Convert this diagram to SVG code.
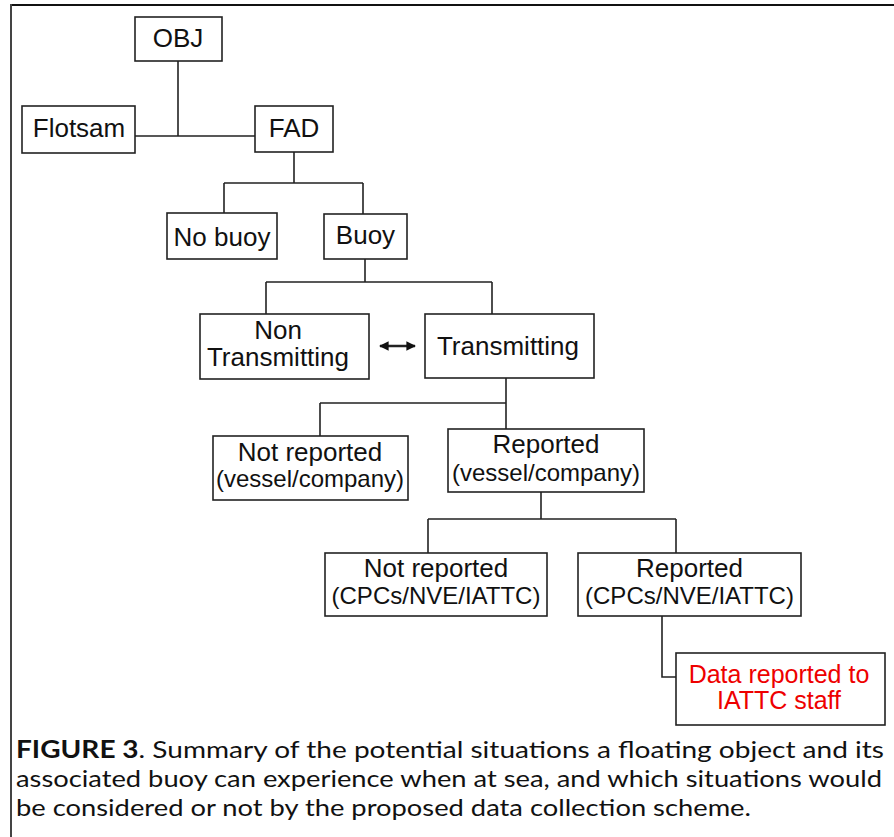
<svg xmlns="http://www.w3.org/2000/svg" width="894" height="837" viewBox="0 0 894 837">
  <style>
    .box { fill: #ffffff; stroke: #222222; stroke-width: 1.6; }
    .wire { fill: none; stroke: #222222; stroke-width: 1.6; }
    .lbl { font-family: "Liberation Sans", Arial, sans-serif; font-size: 26px; fill: #111111; text-anchor: middle; }
    .sub { font-size: 24px; }
    .red { fill: #ee0000; font-size: 25px; }
    .cap { font-family: Lato, "Open Sans", sans-serif; font-size: 24px; fill: #111111; }
  </style>
  <defs>
    <marker id="head" viewBox="0 0 10 10" refX="9" refY="5" markerWidth="4" markerHeight="4" orient="auto-start-reverse">
      <path d="M0,0 L10,5 L0,10 z" fill="#111111"/>
    </marker>
  </defs>

  <rect width="894" height="837" fill="#ffffff"/>

  <!-- frame -->
  <line x1="11" y1="5" x2="894" y2="5" stroke="#111111" stroke-width="2"/>
  <line x1="11" y1="4" x2="11" y2="837" stroke="#444444" stroke-width="2"/>

  <!-- connectors -->
  <g id="connectors" class="wire">
    <path d="M178,61 V136 M135,136 H255"/>
    <path d="M294,152 V183 M224,183 H363 M224,183 V213 M363,183 V214"/>
    <path d="M365,259 V282 M266,282 H492 M266,282 V314 M492,282 V314"/>
    <path d="M506,378 V403 M320,403 H506 M320,403 V436 M506,403 V429"/>
    <path d="M541,492 V519 M428,519 H676 M428,519 V553 M676,519 V553"/>
    <path d="M662,616 V677 H676"/>
    <line x1="380" y1="346" x2="415" y2="346" stroke-width="2.4" marker-start="url(#head)" marker-end="url(#head)"/>
  </g>

  <g id="obj">
    <rect class="box" x="135" y="17" width="87" height="44"/>
    <text class="lbl" x="178" y="47">OBJ</text>
  </g>
  <g id="flotsam">
    <rect class="box" x="22" y="106" width="113" height="47"/>
    <text class="lbl" x="79" y="137">Flotsam</text>
  </g>
  <g id="fad">
    <rect class="box" x="255" y="106" width="78" height="46"/>
    <text class="lbl" x="294" y="137">FAD</text>
  </g>
  <g id="no-buoy">
    <rect class="box" x="167" y="213" width="110" height="46"/>
    <text class="lbl" x="222" y="246">No buoy</text>
  </g>
  <g id="buoy">
    <rect class="box" x="324" y="214" width="83" height="45"/>
    <text class="lbl" x="365.5" y="244">Buoy</text>
  </g>
  <g id="non-transmitting">
    <rect class="box" x="200" y="314" width="169" height="65"/>
    <text class="lbl" x="278" y="339">Non</text>
    <text class="lbl" x="278" y="366">Transmitting</text>
  </g>
  <g id="transmitting">
    <rect class="box" x="425" y="314" width="169" height="64"/>
    <text class="lbl" x="508" y="355">Transmitting</text>
  </g>
  <g id="not-reported-vessel">
    <rect class="box" x="213" y="436" width="195" height="64"/>
    <text class="lbl" x="310" y="461">Not reported</text>
    <text class="lbl sub" x="310" y="487">(vessel/company)</text>
  </g>
  <g id="reported-vessel">
    <rect class="box" x="448" y="429" width="196" height="63"/>
    <text class="lbl" x="546" y="453">Reported</text>
    <text class="lbl sub" x="546" y="481">(vessel/company)</text>
  </g>
  <g id="not-reported-cpcs">
    <rect class="box" x="325" y="553" width="222" height="63"/>
    <text class="lbl" x="436" y="577">Not reported</text>
    <text class="lbl sub" x="436" y="604">(CPCs/NVE/IATTC)</text>
  </g>
  <g id="reported-cpcs">
    <rect class="box" x="578" y="553" width="223" height="63"/>
    <text class="lbl" x="689.5" y="577">Reported</text>
    <text class="lbl sub" x="689.5" y="604">(CPCs/NVE/IATTC)</text>
  </g>
  <g id="data-reported">
    <rect class="box" x="676" y="653" width="209" height="72"/>
    <text class="lbl red" x="779" y="683">Data reported to</text>
    <text class="lbl red" x="779" y="709">IATTC staff</text>
  </g>

  <!-- caption -->
  <g id="caption" class="cap">
    <text x="16" y="758" textLength="868" lengthAdjust="spacingAndGlyphs"><tspan font-weight="bold">FIGURE 3</tspan>. Summary of the potential situations a floating object and its</text>
    <text x="16" y="787" textLength="866" lengthAdjust="spacingAndGlyphs">associated buoy can experience when at sea, and which situations would</text>
    <text x="16" y="816" textLength="735" lengthAdjust="spacingAndGlyphs">be considered or not by the proposed data collection scheme.</text>
  </g>
</svg>
